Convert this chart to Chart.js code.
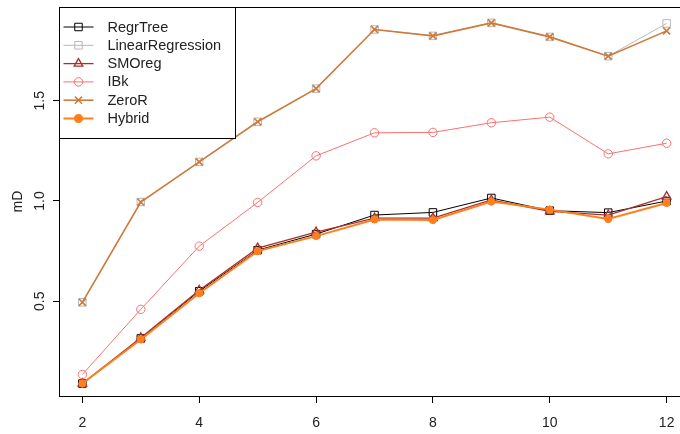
<!DOCTYPE html>
<html><head><meta charset="utf-8">
<script src="https://cdn.jsdelivr.net/npm/chart.js@4"></script>
<style>html,body{margin:0;padding:0;overflow:hidden;background:#fff;width:680px;height:434px}canvas{display:block}</style>
</head><body>
<canvas id="c" width="700" height="434" style="width:700px;height:434px"></canvas>
<script>
const xValues = [2, 3, 4, 5, 6, 7, 8, 9, 10, 11, 12];
const xTicks = [2, 4, 6, 8, 10, 12];
const yTicks = [0.5, 1.0, 1.5];
const yTickLabels = ['0.5', '1.0', '1.5'];
const seriesNames = ['RegrTree', 'LinearRegression', 'SMOreg', 'IBk', 'ZeroR', 'Hybrid'];
const regrTree = [0.09, 0.315, 0.55, 0.755, 0.835, 0.93, 0.943, 1.015, 0.952, 0.942, 1.0];
const linearRegression = [0.495, 0.995, 1.195, 1.395, 1.56, 1.855, 1.823, 1.888, 1.818, 1.722, 1.885];
const smoReg = [0.09, 0.318, 0.555, 0.765, 0.845, 0.915, 0.915, 1.005, 0.948, 0.93, 1.022];
const ibk = [0.135, 0.46, 0.775, 0.993, 1.225, 1.34, 1.342, 1.39, 1.418, 1.235, 1.288];
const zeroR = [0.495, 0.995, 1.195, 1.395, 1.56, 1.855, 1.823, 1.888, 1.818, 1.722, 1.848];
const hybrid = [0.09, 0.31, 0.54, 0.75, 0.825, 0.908, 0.905, 0.997, 0.957, 0.91, 0.99];

const FONT = 'Liberation Sans, Arial, sans-serif';
const styles = [
  {color:'#000000', pointStyle:'rect', radius:5.3, lw:1, fill:'rgba(0,0,0,0)'},
  {color:'#b8b8b8', pointStyle:'rect', radius:5.3, lw:1, fill:'rgba(0,0,0,0)'},
  {color:'#a8302c', pointStyle:'triangle', radius:5, lw:1.3, fill:'rgba(0,0,0,0)'},
  {color:'#ff6f6f', pointStyle:'circle', radius:4.2, lw:1, fill:'rgba(0,0,0,0)'},
  {color:'#cf7a3c', pointStyle:'crossRot', radius:5, lw:1.6, fill:'rgba(0,0,0,0)'},
  {color:'#ff7f1e', pointStyle:'circle', radius:3.6, lw:2, fill:'#ff7f1e'}
];
const seriesData = [regrTree, linearRegression, smoReg, ibk, zeroR, hybrid];

const datasets = seriesData.map((arr, i) => ({
  label: seriesNames[i],
  data: xValues.map((x, j) => ({x: x, y: arr[j]})),
  borderColor: styles[i].color,
  borderWidth: styles[i].lw,
  pointStyle: styles[i].pointStyle,
  pointRadius: styles[i].radius,
  pointBorderColor: styles[i].color,
  pointBackgroundColor: styles[i].fill,
  pointBorderWidth: i === 5 ? 1 : styles[i].lw,
  tension: 0,
  fill: false,
  order: 6 - i
}));

function drawMarker(ctx, st, x, y) {
  ctx.save();
  ctx.strokeStyle = st.color;
  ctx.fillStyle = st.fill;
  ctx.lineWidth = st.lw;
  if (Chart.helpers && Chart.helpers.drawPoint) {
    Chart.helpers.drawPoint(ctx, {pointStyle: st.pointStyle, radius: st.radius, rotation: 0, borderWidth: st.lw}, x, y);
  }
  ctx.restore();
}

const decor = {
  id: 'decor',
  afterDraw(chart) {
    const ctx = chart.ctx, a = chart.chartArea;
    ctx.save();
    ctx.strokeStyle = '#000';
    ctx.lineWidth = 1;
    ctx.strokeRect(Math.round(a.left) + 0.5, Math.round(a.top) + 0.5, Math.round(a.right - a.left), Math.round(a.bottom - a.top));
    const ys = chart.scales.y;
    ctx.fillStyle = '#222';
    ctx.font = '14px ' + FONT;
    ctx.textAlign = 'center';
    ctx.textBaseline = 'middle';
    yTicks.forEach((v, i) => {
      const py = ys.getPixelForValue(v);
      ctx.save();
      ctx.translate(40, py);
      ctx.rotate(-Math.PI / 2);
      ctx.fillText(yTickLabels[i], 0, 0);
      ctx.restore();
    });
    const L = Math.round(a.left) + 0.5, T = Math.round(a.top) + 0.5, W = 176, H = 131;
    ctx.fillStyle = '#fff';
    ctx.fillRect(L, T, W, H);
    ctx.strokeStyle = '#000';
    ctx.lineWidth = 1;
    ctx.strokeRect(L, T, W, H);
    ctx.font = '14.5px ' + FONT;
    ctx.textAlign = 'left';
    ctx.textBaseline = 'middle';
    seriesNames.forEach((name, i) => {
      const y = T + 19.5 + i * 18.3;
      const st = styles[i];
      ctx.strokeStyle = st.color;
      ctx.lineWidth = st.lw;
      ctx.beginPath();
      ctx.moveTo(L + 4, y);
      ctx.lineTo(L + 34, y);
      ctx.stroke();
      drawMarker(ctx, st, L + 19, y);
      ctx.fillStyle = '#222';
      ctx.fillText(name, L + 48, y + 0.5);
    });
    ctx.restore();
  }
};

new Chart(document.getElementById('c'), {
  type: 'line',
  data: {datasets: datasets},
  options: {
    responsive: false,
    animation: false,
    layout: {padding: {top: 7, right: 10, left: 0, bottom: 0}},
    plugins: {legend: {display: false}, tooltip: {enabled: false}},
    scales: {
      x: {
        type: 'linear', min: 1.6, max: 12.4,
        afterBuildTicks: s => { s.ticks = xTicks.map(v => ({value: v})); },
        afterFit: s => { s.height = 38; s.paddingLeft = 0; s.paddingRight = 0; },
        grid: {drawOnChartArea: false, drawTicks: true, tickLength: 7, color: '#000', lineWidth: 1},
        border: {display: false},
        ticks: {color: '#222', font: {family: FONT, size: 14}, padding: 12, maxRotation: 0, callback: v => String(v)}
      },
      y: {
        type: 'linear', min: 0.028, max: 1.967,
        afterBuildTicks: s => { s.ticks = yTicks.map(v => ({value: v})); },
        afterFit: s => { s.width = 59; s.paddingTop = 0; s.paddingBottom = 0; },
        grid: {drawOnChartArea: false, drawTicks: true, tickLength: 6, color: '#000', lineWidth: 1},
        border: {display: false},
        ticks: {color: 'rgba(0,0,0,0)', font: {family: FONT, size: 1}},
        title: {display: true, text: 'mD', color: '#222', font: {family: FONT, size: 14}, padding: {top: 10, bottom: 0}}
      }
    }
  },
  plugins: [decor]
});
</script>
</body></html>
